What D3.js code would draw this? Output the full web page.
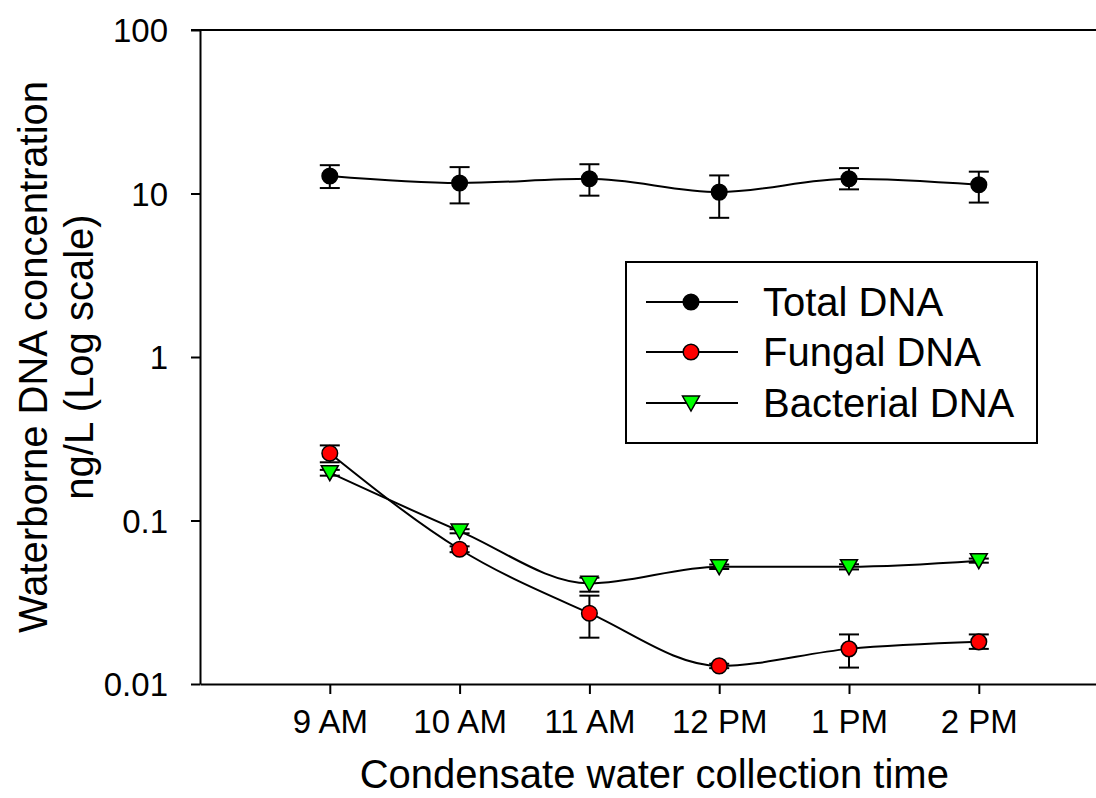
<!DOCTYPE html>
<html>
<head>
<meta charset="utf-8">
<script src="https://cdn.jsdelivr.net/npm/d3@7"></script>
<style>
    html, body { margin: 0; padding: 0; background: #fff; }
    svg text { font-family: "Liberation Sans", Arial, sans-serif; fill: #000; }
    .tick-text { font-size: 33px; }
    .axis-label { font-size: 40px; }
    .legend-text { font-size: 40px; }
</style>
</head>
<body>
<svg id="chart" width="1096" height="798"></svg>
<script>
// ========= data =========
const times = ["9 AM", "10 AM", "11 AM", "12 PM", "1 PM", "2 PM"];

const totalMean = [12.8, 11.6, 12.3, 10.2, 12.3, 11.3];
const totalLow  = [10.8, 8.7, 9.7, 7.1, 10.6, 8.8];
const totalHigh = [14.9, 14.5, 15.1, 12.9, 14.3, 13.6];

const fungalMean = [0.258, 0.0667, 0.0271, 0.0129, 0.0164, 0.0181];
const fungalLow  = [0.227, 0.0640, 0.0192, 0.0125, 0.0126, 0.0164];
const fungalHigh = [0.288, 0.0695, 0.0347, 0.0133, 0.0201, 0.0201];

const bactMean = [0.196, 0.0862, 0.0413, 0.0522, 0.0522, 0.0568];
const bactLow  = [0.188, 0.0835, 0.0367, 0.0505, 0.0502, 0.0552];
const bactHigh = [0.204, 0.0885, 0.0447, 0.0538, 0.0540, 0.0585];

const yTicks = [0.01, 0.1, 1, 10, 100];
const yTickLabels = ["0.01", "0.1", "1", "10", "100"];

const seriesNames = ["Total DNA", "Fungal DNA", "Bacterial DNA"];

// ========= svg =========
const svg = d3.select("#chart");

const plotLeft = 200, plotTop = 30, plotBottom = 684;
const step = 129.8;

const x = d3.scaleLinear()
    .domain([0, 7])
    .range([plotLeft, plotLeft + 7 * step]);

const y = d3.scaleLog()
    .domain([0.01, 100])
    .range([plotBottom, plotTop]);

const rows = (mean, low, high) => times.map((t, i) => ({
    i: i + 1, v: mean[i], lo: low[i], hi: high[i]
}));

const series = [
    { name: seriesNames[0], data: rows(totalMean, totalLow, totalHigh), shape: "circle", fill: "#000000" },
    { name: seriesNames[1], data: rows(fungalMean, fungalLow, fungalHigh), shape: "circle", fill: "#ff0000" },
    { name: seriesNames[2], data: rows(bactMean, bactLow, bactHigh), shape: "triangle", fill: "#00ff00" }
];

// ========= axes =========
const xAxis = svg.append("g")
    .attr("transform", `translate(0,${plotBottom})`)
    .call(d3.axisBottom(x)
        .tickValues(d3.range(1, times.length + 1))
        .tickFormat(d => times[d - 1])
        .tickSize(10)
        .tickSizeOuter(0)
        .tickPadding(16));

const yAxis = svg.append("g")
    .attr("transform", `translate(${plotLeft},0)`)
    .call(d3.axisLeft(y)
        .tickValues(yTicks)
        .tickFormat((d, i) => yTickLabels[i])
        .tickSize(9)
        .tickSizeOuter(0)
        .tickPadding(23));

[xAxis, yAxis].forEach(a => {
    a.attr("font-family", null).attr("font-size", null);
    a.selectAll("path, line").attr("stroke", "#000").attr("stroke-width", 2);
    a.selectAll("text").attr("class", "tick-text");
});
xAxis.selectAll("text").attr("dy", "0.71em");
yAxis.selectAll("text").attr("dy", "0.36em");

// top frame line
svg.append("line")
    .attr("x1", plotLeft - 9)
    .attr("x2", x(7))
    .attr("y1", y(100))
    .attr("y2", y(100))
    .attr("stroke", "#000")
    .attr("stroke-width", 2);

svg.append("text")
    .attr("class", "axis-label")
    .attr("x", (x(1) + x(6)) / 2)
    .attr("y", 788)
    .attr("text-anchor", "middle")
    .text("Condensate water collection time");

const yLab = svg.append("text")
    .attr("class", "axis-label")
    .attr("transform", `translate(47,${(plotTop + plotBottom) / 2}) rotate(-90)`)
    .attr("text-anchor", "middle");
yLab.append("tspan").attr("x", 0).attr("y", 0).text("Waterborne DNA concentration");
yLab.append("tspan").attr("x", 0).attr("y", 46).text("ng/L (Log scale)");

// ========= marks =========
const line = d3.line()
    .x(d => x(d.i))
    .y(d => y(d.v))
    .curve(d3.curveMonotoneX);

const triPath = "M-8.5,-7 L8.5,-7 L0,8 Z";

function drawMarker(sel, s) {
    if (s.shape === "circle") {
        sel.append("circle")
            .attr("r", 7.8)
            .attr("fill", s.fill)
            .attr("stroke", "#000")
            .attr("stroke-width", 1.5);
    } else {
        sel.append("path")
            .attr("d", triPath)
            .attr("fill", s.fill)
            .attr("stroke", "#000")
            .attr("stroke-width", 1.5);
    }
}

series.forEach(s => {
    const g = svg.append("g");

    g.append("path")
        .datum(s.data)
        .attr("fill", "none")
        .attr("stroke", "#000")
        .attr("stroke-width", 2)
        .attr("d", line);

    const err = g.selectAll(".err")
        .data(s.data)
        .join("g")
        .attr("class", "err")
        .attr("stroke", "#000")
        .attr("stroke-width", 2);

    err.append("line")
        .attr("x1", d => x(d.i)).attr("x2", d => x(d.i))
        .attr("y1", d => y(d.lo)).attr("y2", d => y(d.hi));
    err.append("line")
        .attr("x1", d => x(d.i) - 10).attr("x2", d => x(d.i) + 10)
        .attr("y1", d => y(d.lo)).attr("y2", d => y(d.lo));
    err.append("line")
        .attr("x1", d => x(d.i) - 10).attr("x2", d => x(d.i) + 10)
        .attr("y1", d => y(d.hi)).attr("y2", d => y(d.hi));

    g.selectAll(".pt")
        .data(s.data)
        .join("g")
        .attr("class", "pt")
        .attr("transform", d => `translate(${x(d.i)},${y(d.v)})`)
        .each(function () { drawMarker(d3.select(this), s); });
});

// ========= legend =========
const legend = svg.append("g").attr("class", "legend");

legend.append("rect")
    .attr("x", 626)
    .attr("y", 262)
    .attr("width", 411)
    .attr("height", 181)
    .attr("fill", "#fff")
    .attr("stroke", "#000")
    .attr("stroke-width", 2);

const legendRows = [302, 352, 403];

series.forEach((s, i) => {
    const ly = legendRows[i];
    legend.append("line")
        .attr("x1", 646).attr("x2", 738)
        .attr("y1", ly).attr("y2", ly)
        .attr("stroke", "#000")
        .attr("stroke-width", 2);
    drawMarker(legend.append("g").attr("transform", `translate(691,${ly})`), s);
    legend.append("text")
        .attr("class", "legend-text")
        .attr("x", 763)
        .attr("y", ly)
        .attr("dy", "0.35em")
        .text(s.name);
});
</script>
</body>
</html>
